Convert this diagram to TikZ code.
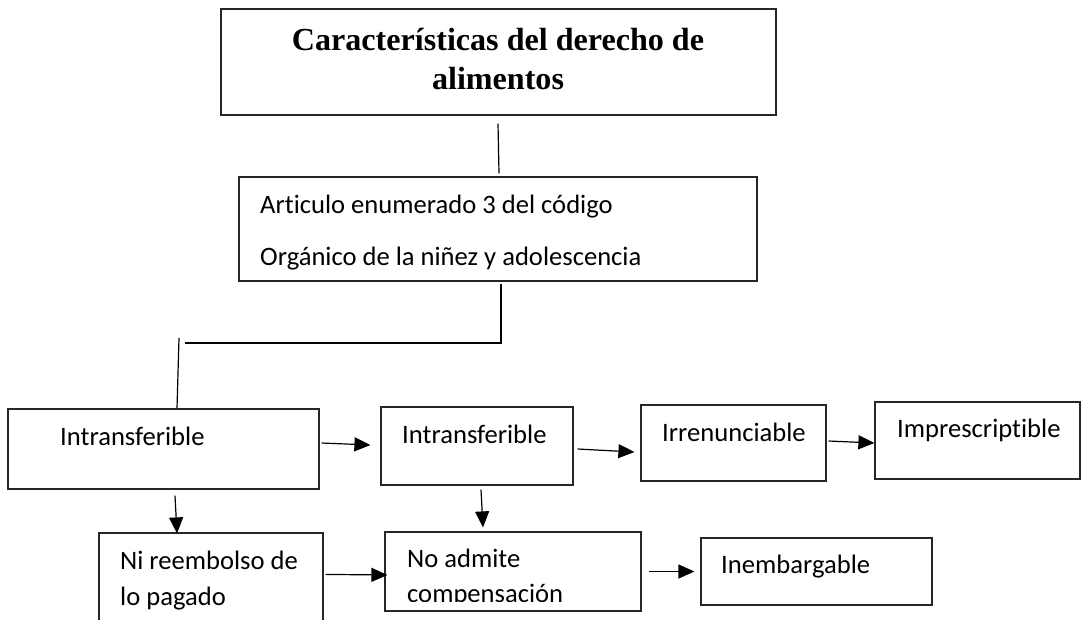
\documentclass[tikz,border=0pt]{standalone}
\usepackage{fontspec}
\setmainfont{Carlito}[Ligatures=NoCommon]
\newfontfamily\titlefont{Liberation Serif}
\usetikzlibrary{arrows.meta,calc}
\begin{document}
\begin{tikzpicture}[x=1pt,y=-1pt,
  box/.style={draw=black!85, line width=1.2pt, inner sep=0pt},
  txt/.style={anchor=base west, inner sep=0pt, font=\fontsize{26.6}{30}\selectfont},
  ttl/.style={anchor=base, inner sep=0pt, font=\titlefont\bfseries\fontsize{32.1}{39}\selectfont},
  conn/.style={draw=black, line width=1.2pt},
  arr/.style={conn, -{Triangle[length=16pt,width=14pt]}}]
\useasboundingbox (0,0) rectangle (1081,619);
\clip (0,0) rectangle (1081,619);
\fill[white] (0,0) rectangle (1081,619);
% boxes
\node[box, minimum width=555pt, minimum height=106pt] (title) at (498.5,62) {};
\node[box, minimum width=518pt, minimum height=104pt] (art) at (498,229) {};
\node[box, minimum width=311pt, minimum height=80pt] (A) at (163.5,449) {};
\node[box, minimum width=192pt, minimum height=78pt] (B) at (477,446) {};
\node[box, minimum width=185pt, minimum height=76pt] (C) at (733.5,443) {};
\node[box, minimum width=205pt, minimum height=77pt] (D) at (977.5,440.5) {};
\node[box, minimum width=224pt, minimum height=107pt] (E) at (211,586.5) {};
\node[box, minimum width=256pt, minimum height=79pt] (F) at (513,571.5) {};
\node[box, minimum width=231pt, minimum height=67pt] (G) at (816.5,571.5) {};
% texts
\node[ttl] (t1) at (498,50) {Características del derecho de};
\node[ttl] (t2) at (498,89) {alimentos};
\node[txt] (art1) at (260,213) {Articulo enumerado 3 del código};
\node[txt] (art2) at (260,265) {Orgánico de la niñez y adolescencia};
\node[txt] (a1) at (60,445) {Intransferible};
\node[txt] (b1) at (402,443) {Intransferible};
\node[txt] (c1) at (662,441) {Irrenunciable};
\node[txt] (d1) at (897,437) {Imprescriptible};
\node[txt] (e1) at (120,569) {Ni reembolso de};
\node[txt] (e2) at (120,605) {lo pagado};
\node[txt] (f1) at (407,567) {No admite};
\begin{scope}
\clip (385,532) rectangle (641,601);
\node[txt] (f2) at (407,602) {compensación};
\end{scope}
\node[txt] (g1) at (721,573) {Inembargable};
% plain connectors
\draw[conn] ($(title.south)+(-0.5,8)$) -- ($(art.north)+(1,-3)$);
\coordinate (corner) at (501,343);
\coordinate (hend) at (185,343);
\draw[conn] ($(art.south)+(3,2)$) -- (corner) -- (hend);
\coordinate (vstart) at (179,338);
\draw[conn] (vstart) -- ($(A.north)+(13.5,0)$);
% arrows
\draw[arr] ($(A.east)+(2,-6)$) -- ($(B.west)+(-10,-1)$);
\draw[arr] ($(B.east)+(4,3)$) -- ($(C.west)+(-6,9)$);
\draw[arr] ($(C.east)+(2,-2)$) -- ($(D.west)+(0,2.5)$);
\draw[arr] ($(A.south)+(11.5,6)$) -- ($(E.north)+(-34,1)$);
\draw[arr] ($(B.south)+(4,4)$) -- ($(F.north)+(-30,-4)$);
\draw[arr] ($(E.north east)+(2,42)$) -- ($(F.west)+(3,3.5)$);
\draw[arr] ($(F.east)+(7,0)$) -- ($(G.west)+(-6,0)$);
\end{tikzpicture}
\end{document}
